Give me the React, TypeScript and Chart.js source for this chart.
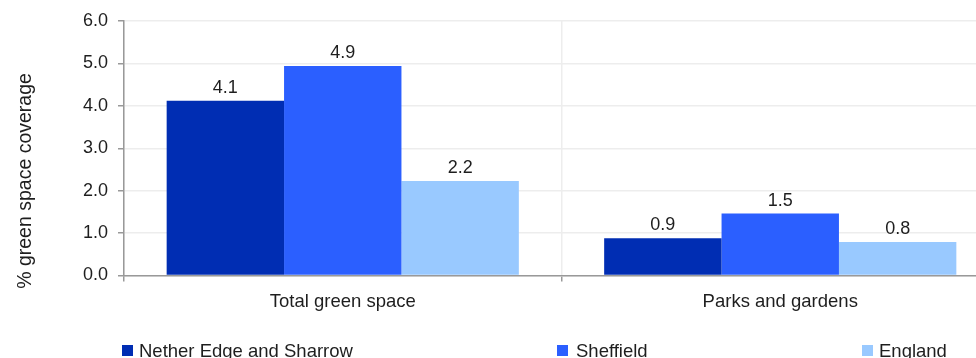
import React, { useEffect, useRef } from "react";
import { Chart, registerables } from "chart.js";

Chart.register(...registerables);

const categories = ["Total green space", "Parks and gardens"];
const seriesNames = ["Nether Edge and Sharrow", "Sheffield", "England"];
const netherEdge = [4.12, 0.88];
const sheffield = [4.94, 1.46];
const england = [2.23, 0.79];
const yTicks = [0, 1, 2, 3, 4, 5, 6];
const yTitle = "% green space coverage";

const colors = ["#002db3", "#2b5fff", "#99c9ff"];
const legendBoxX = [122, 557, 862];
const legendTextX = [139, 576, 879];
const FONT = "'Liberation Sans', Arial, Helvetica, sans-serif";
const TEXT = "#1e1e1e";

const overlayPlugin = {
  id: "overlay",
  afterDatasetsDraw(chart: any) {
    const ctx = chart.ctx;
    ctx.save();
    // data labels
    ctx.fillStyle = TEXT;
    ctx.font = `18px ${FONT}`;
    ctx.textAlign = "center";
    ctx.textBaseline = "alphabetic";
    chart.data.datasets.forEach((ds: any, i: number) => {
      const meta = chart.getDatasetMeta(i);
      meta.data.forEach((bar: any, j: number) => {
        ctx.fillText(Number(ds.data[j]).toFixed(1), bar.x, bar.y - 8);
      });
    });
    // y title
    ctx.save();
    ctx.translate(26, chart.height / 2 + 2);
    ctx.rotate(-Math.PI / 2);
    ctx.font = `19.5px ${FONT}`;
    ctx.textAlign = "center";
    ctx.textBaseline = "middle";
    ctx.fillText(yTitle, 0, 0);
    ctx.restore();
    // legend
    ctx.font = `18.5px ${FONT}`;
    ctx.textAlign = "left";
    ctx.textBaseline = "alphabetic";
    chart.data.datasets.forEach((ds: any, i: number) => {
      ctx.fillStyle = ds.backgroundColor;
      ctx.fillRect(legendBoxX[i], 345, 11, 11);
      ctx.fillStyle = TEXT;
      ctx.fillText(ds.label, legendTextX[i], 357);
    });
    ctx.restore();
  },
};

export default function App() {
  const ref = useRef<HTMLCanvasElement | null>(null);
  useEffect(() => {
    if (!ref.current) return;
    const seriesData = [netherEdge, sheffield, england];
    const chart = new Chart(ref.current, {
      type: "bar",
      data: {
        labels: categories,
        datasets: seriesNames.map((name, i) => ({
          label: name,
          data: seriesData[i],
          backgroundColor: colors[i],
          borderWidth: 0,
          categoryPercentage: 0.805,
          barPercentage: 1.0,
        })),
      },
      options: {
        responsive: false,
        animation: false,
        devicePixelRatio: 1,
        layout: { padding: { top: 21, right: 1, left: 0, bottom: 0 } },
        plugins: {
          legend: { display: false },
          tooltip: { enabled: false },
          title: { display: false },
        },
        scales: {
          x: {
            offset: true,
            grid: {
              offset: true,
              color: "#ededed",
              lineWidth: 1.5,
              tickColor: "#999999",
              tickWidth: 1.5,
              tickLength: 6,
              drawOnChartArea: true,
            },
            border: { color: "#999999", width: 1.5 },
            ticks: {
              color: TEXT,
              font: { family: FONT, size: 18.5 },
              padding: 9,
              maxRotation: 0,
            },
            afterFit: (s: any) => {
              s.height = 358 - 275.5;
            },
          },
          y: {
            min: 0,
            max: 6,
            afterBuildTicks: (s: any) => {
              s.ticks = yTicks.map((v) => ({ value: v }));
            },
            grid: {
              color: "#ededed",
              lineWidth: 1.5,
              tickColor: "#999999",
              tickWidth: 1.5,
              tickLength: 6,
            },
            border: { color: "#999999", width: 1.5 },
            ticks: {
              color: TEXT,
              font: { family: FONT, size: 18 },
              padding: 10,
              callback: (v: any) => Number(v).toFixed(1),
            },
            afterFit: (s: any) => {
              s.width = 124;
            },
          },
        },
      },
      plugins: [overlayPlugin],
    });
    return () => chart.destroy();
  }, []);
  return (
    <div
      style={{
        position: "absolute",
        left: 0,
        top: 0,
        width: 976,
        height: 358,
        overflow: "hidden",
        background: "#ffffff",
      }}
    >
      <canvas ref={ref} width={1000} height={358} style={{ display: "block" }} />
    </div>
  );
}
